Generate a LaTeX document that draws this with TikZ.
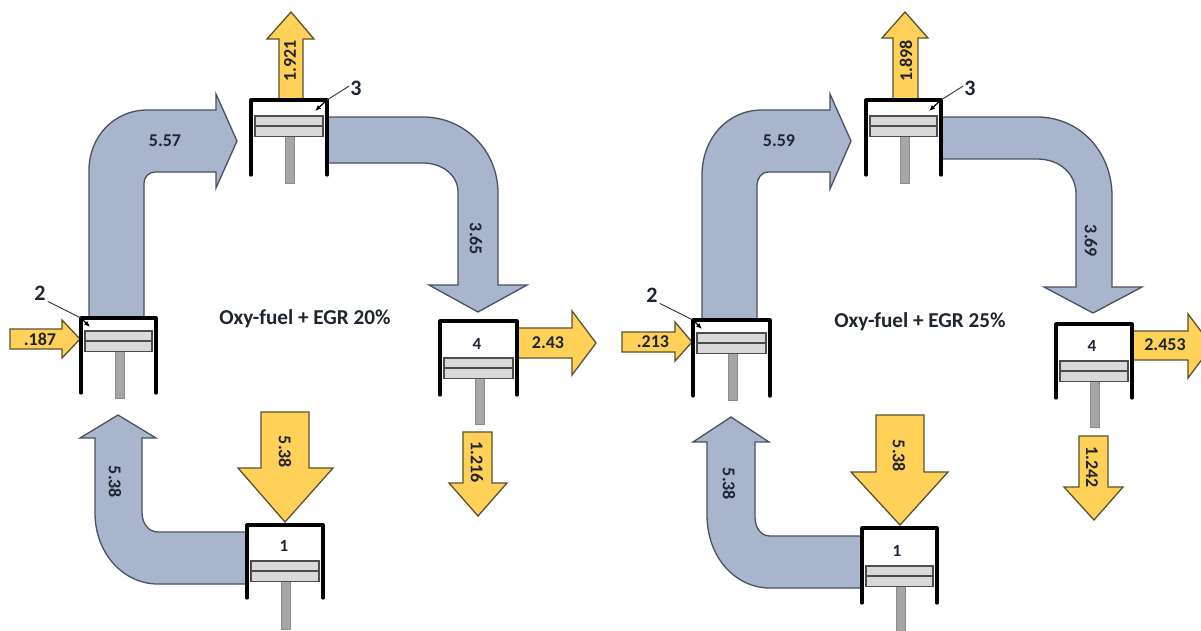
\documentclass[tikz,border=0pt]{standalone}
\usepackage{fontspec}
\setmainfont{Carlito}
\definecolor{flowblue}{HTML}{A9B5CC}
\definecolor{flowedge}{HTML}{4A5160}
\definecolor{flowyellow}{HTML}{FFD158}
\definecolor{yellowedge}{HTML}{5A5230}
\definecolor{pistonfill}{HTML}{D9D9D9}
\definecolor{rodfill}{HTML}{A6A6A6}
\definecolor{inktext}{HTML}{1E2430}
\tikzset{
  hotflow/.style={fill=flowblue,draw=flowedge,line width=1.3pt,line join=miter},
  heatflow/.style={fill=flowyellow,draw=yellowedge,line width=1.3pt,line join=miter},
  wallline/.style={draw=black,line width=3.2pt,line cap=round,line join=round},
  pistonbody/.style={fill=pistonfill,draw=black!70,line width=1.4pt},
  rodbody/.style={fill=rodfill,draw=black!45,line width=1pt},
  flowlabel/.style={font=\bfseries\fontsize{18}{18}\selectfont,text=inktext,inner sep=0pt},
  cylinderlabel/.style={font=\bfseries\fontsize{17}{17}\selectfont,text=inktext,inner sep=0pt},
  stationlabel/.style={font=\bfseries\fontsize{22}{22}\selectfont,text=inktext,inner sep=0pt},
  titlelabel/.style={font=\bfseries\fontsize{21.2}{21.2}\selectfont,text=inktext,inner sep=0pt},
  leader/.style={draw=black!80,line width=.9pt},
  leaderhead/.style={draw=black,line width=1.2pt,-{Latex[length=6pt,width=5pt]}}
}
\usetikzlibrary{arrows.meta}
% name, left, right, top, bottom, piston top, rod bottom
\newcommand{\engine}[7]{%
  \pgfmathsetmacro{\pl}{#2+4}\pgfmathsetmacro{\pr}{#3-4}%
  \pgfmathsetmacro{\pm}{#6+10}\pgfmathsetmacro{\pb}{#6+20.5}%
  \pgfmathsetmacro{\rc}{(#2+#3)/2+1}%
  \fill[white] (#2,#4) rectangle (#3,#5);
  \draw[rodbody] (\rc-4.5,\pb) rectangle (\rc+4.5,#7);
  \draw[pistonbody] (\pl,#6) rectangle (\pr,\pb);
  \draw[pistonbody] (\pl,\pm) -- (\pr,\pm);
  \draw[wallline] (#2,#5) -- (#2,#4) -- (#3,#4) -- (#3,#5);
  \coordinate (#1) at (#2,#4);
}
\begin{document}
\begin{tikzpicture}[x=1pt,y=-1pt]
\useasboundingbox (0,0) rectangle (1201,630);
\fill[white] (0,0) rectangle (1201,630);
\clip (0,0) rectangle (1201,630);

%% ---------- left panel ----------
\draw[hotflow] (89,322) -- (89,170) .. controls (89,137) and (114,110) .. (147,110) -- (216,110) -- (216,94) -- (237,141) -- (216,188) -- (216,172) -- (155,172) .. controls (149,172) and (144,177) .. (144,183) -- (144,322) -- cycle;
\draw[hotflow] (327,117) -- (423,117) .. controls (465,117) and (498,151) .. (498,193) -- (498,285) -- (527,285) -- (478,312) -- (429,285) -- (458,285) -- (458,192) .. controls (458,175) and (442,163) .. (423,163) -- (327,163) -- cycle;
\draw[hotflow] (247,584) -- (158,584) .. controls (123,584) and (95,553) .. (95,513) -- (95,438) -- (80,438) -- (118,415) -- (156,438) -- (142,438) -- (142,512) .. controls (142,523) and (148,532) .. (158,532) -- (247,532) -- cycle;
\draw[heatflow] (279,100) -- (279,39) -- (267,39) -- (291,12) -- (314,39) -- (303,39) -- (303,100) -- cycle;
\draw[heatflow] (10,329) -- (62,329) -- (62,320) -- (80,339) -- (62,358) -- (62,349) -- (10,349) -- cycle;
\draw[heatflow] (261,412) -- (309,412) -- (309,468) -- (333,468) -- (285,522) -- (238,468) -- (261,468) -- cycle;
\draw[heatflow] (517,328) -- (572,328) -- (572,311) -- (596,343) -- (572,375) -- (572,358) -- (517,358) -- cycle;
\draw[heatflow] (463,432) -- (492,432) -- (492,483) -- (507,483) -- (478,516) -- (449,483) -- (463,483) -- cycle;
\engine{cylBa}{81}{156}{318}{393}{331}{398}
\engine{cylCa}{251}{327}{100}{175}{116}{183}
\engine{cylDa}{440}{517}{321}{395}{358}{424}
\engine{cylAa}{247}{323}{525}{598}{561}{629}
\node[stationlabel] (twoa) at (40,293) {2};
\node[stationlabel] (threea) at (356,88) {3};
\coordinate (twoatip) at (90,327);
\coordinate (threeatip) at (315,111);
\coordinate (twoacorner) at (81,318);
\coordinate (threeacorner) at (327,100);
\draw[leader] (twoa.south east) ++(2,1) -- (twoacorner);
\draw[leaderhead] (twoacorner) -- (twoatip);
\draw[leader] (threea.west) ++(-1,-2) -- (threeacorner);
\draw[leaderhead] (threeacorner) -- (threeatip);
\node[flowlabel] (a557) at (165,141) {5.57};
\node[flowlabel,rotate=90] (a1921) at (290,61) {1.921};
\node[flowlabel,rotate=-90] (a365) at (476,239) {3.65};
\node[flowlabel] (a243) at (548,343) {2.43};
\node[flowlabel,rotate=-90] (a1216) at (477,462) {1.216};
\node[flowlabel] (a187) at (40,339) {.187};
\node[flowlabel,rotate=-90] (a538b) at (115,482) {5.38};
\node[flowlabel,rotate=-90] (a538y) at (285,452) {5.38};
\node[cylinderlabel] (a1) at (284,546) {1};
\node[cylinderlabel] (a4) at (477,344) {4};
\node[titlelabel] (atitle) at (305,319) {Oxy-fuel + EGR 20\%};

%% ---------- right panel ----------
\draw[hotflow] (702,324) -- (702,175) .. controls (702,139) and (727,110) .. (762,110) -- (830,110) -- (830,94) -- (851,141) -- (830,189) -- (830,172) -- (768,172) .. controls (762,172) and (757,178) .. (757,185) -- (757,324) -- cycle;
\draw[hotflow] (941,117) -- (1037,117) .. controls (1080,117) and (1112,152) .. (1112,196) -- (1112,287) -- (1142,287) -- (1093,313) -- (1044,287) -- (1076,287) -- (1076,194) .. controls (1076,174) and (1060,159) .. (1037,159) -- (941,159) -- cycle;
\draw[hotflow] (862,588) -- (770,588) .. controls (735,588) and (707,557) .. (707,515) -- (707,442) -- (693,442) -- (731,417) -- (769,442) -- (755,442) -- (755,517) .. controls (755,528) and (761,536) .. (770,536) -- (862,536) -- cycle;
\draw[heatflow] (893,100) -- (893,38) -- (882,38) -- (905,12) -- (928,38) -- (918,38) -- (918,100) -- cycle;
\draw[heatflow] (622,332) -- (675,332) -- (675,322) -- (692,342) -- (675,361) -- (675,352) -- (622,352) -- cycle;
\draw[heatflow] (876,415) -- (924,415) -- (924,472) -- (948,472) -- (900,525) -- (851,472) -- (876,472) -- cycle;
\draw[heatflow] (1133,331) -- (1188,331) -- (1188,314) -- (1212,346) -- (1188,378) -- (1188,360) -- (1133,360) -- cycle;
\draw[heatflow] (1079,436) -- (1108,436) -- (1108,487) -- (1123,487) -- (1094,520) -- (1064,487) -- (1079,487) -- cycle;
\engine{cylBb}{693}{770}{320}{396}{333}{400}
\engine{cylCb}{866}{941}{100}{175}{116}{183}
\engine{cylDb}{1056}{1132}{324}{398}{361}{427}
\engine{cylAb}{862}{937}{528}{603}{566}{632}
\node[stationlabel] (twob) at (652,295) {2};
\node[stationlabel] (threeb) at (970,88) {3};
\coordinate (twobtip) at (702,329);
\coordinate (threebtip) at (929,111);
\coordinate (twobcorner) at (693,320);
\coordinate (threebcorner) at (941,100);
\draw[leader] (twob.south east) ++(2,1) -- (twobcorner);
\draw[leaderhead] (twobcorner) -- (twobtip);
\draw[leader] (threeb.west) ++(-1,-2) -- (threebcorner);
\draw[leaderhead] (threebcorner) -- (threebtip);
\node[flowlabel] (b559) at (779,141) {5.59};
\node[flowlabel,rotate=90] (b1898) at (906,61) {1.898};
\node[flowlabel,rotate=-90] (b369) at (1091,241) {3.69};
\node[flowlabel] (b2453) at (1165,345) {2.453};
\node[flowlabel,rotate=-90] (b1242) at (1092,467) {1.242};
\node[flowlabel] (b213) at (653,342) {.213};
\node[flowlabel,rotate=-90] (b538b) at (729,484) {5.38};
\node[flowlabel,rotate=-90] (b538y) at (899,456) {5.38};
\node[cylinderlabel] (b1) at (897,551) {1};
\node[cylinderlabel] (b4) at (1092,346) {4};
\node[titlelabel] (btitle) at (920,322) {Oxy-fuel + EGR 25\%};
\end{tikzpicture}
\end{document}
